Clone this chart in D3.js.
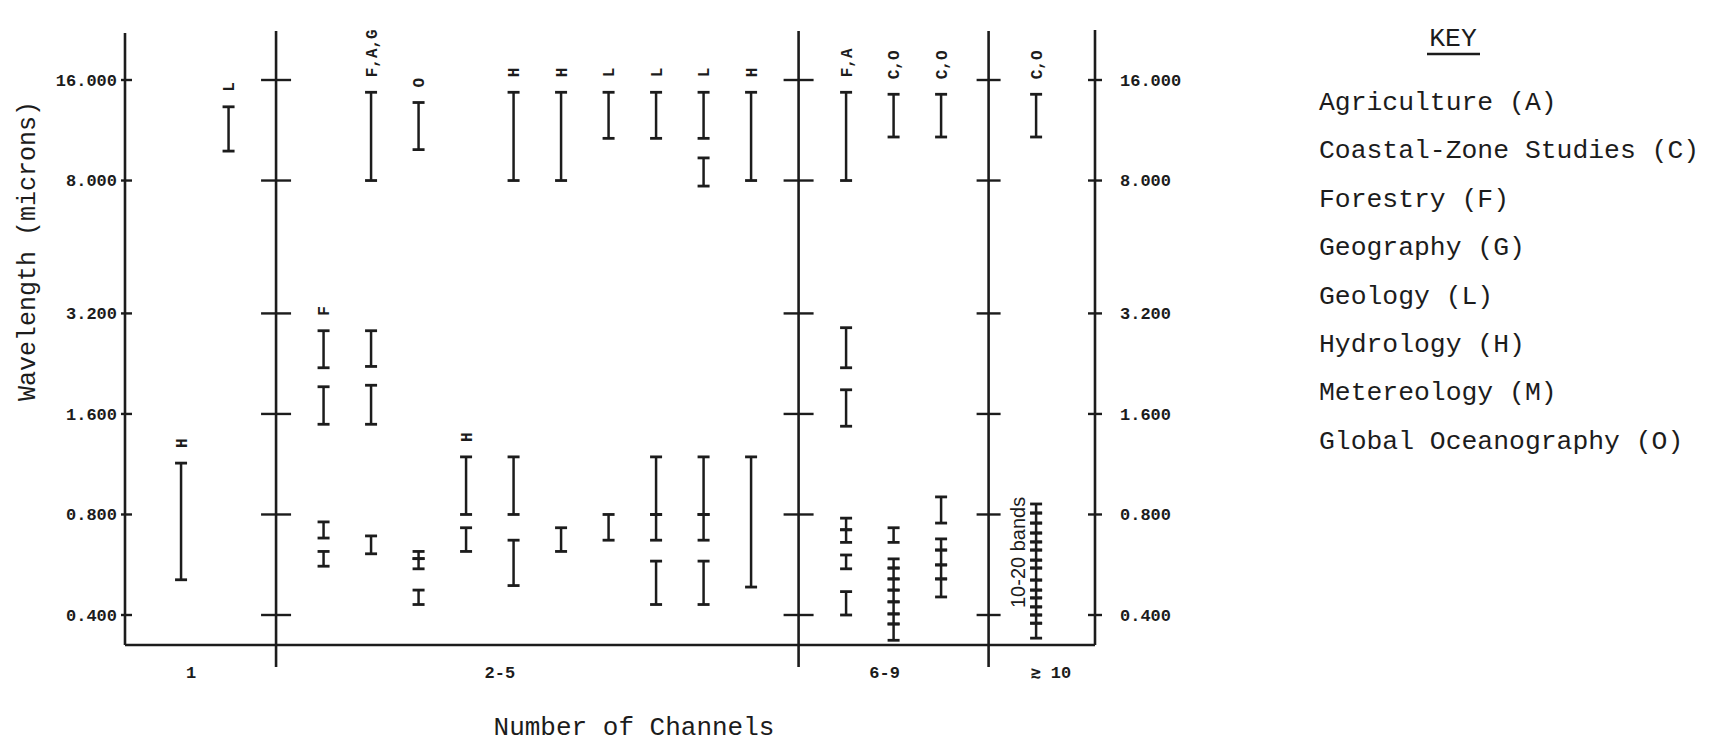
<!DOCTYPE html>
<html>
<head>
<meta charset="utf-8">
<script src="https://cdn.jsdelivr.net/npm/d3@7"></script>
<style>
  body { margin: 0; background: #fff; }
  text { fill: #1c1c1c; }
</style>
</head>
<body>
<svg width="1711" height="745"></svg>
<script>
// groups of channel counts along the bottom (positions are in column slots)
const groupNames = ['1', '2-5', '6-9', '\u2273  10'];
const groupTicks = [0.2, 6.7, 14.8, 18.3];
const dividerSlots = [2, 13, 17];

// wavelength ticks, microns
const wavelengthTicks = [0.4, 0.8, 1.6, 3.2, 8, 16];

// one column per proposed sensor, bands as [low, high] microns
const columnSlots = [0, 1, 3, 4, 5, 6, 7, 8, 9, 10, 11, 12, 14, 15, 16, 18];
const columnLabels = ['H', 'L', 'F', 'F,A,G', 'O', 'H', 'H', 'H', 'L', 'L', 'L', 'H', 'F,A', 'C,O', 'C,O', 'C,O'];
const columnBands = [
  [[0.51, 1.14]],
  [[9.8, 13.3]],
  [[2.2, 2.84], [1.49, 1.93], [0.68, 0.76], [0.56, 0.62]],
  [[8.0, 14.7], [2.22, 2.84], [1.49, 1.95], [0.61, 0.69]],
  [[9.9, 13.7], [0.59, 0.62], [0.55, 0.59], [0.43, 0.475]],
  [[0.8, 1.19], [0.62, 0.73]],
  [[8.0, 14.7], [0.8, 1.19], [0.49, 0.67]],
  [[8.0, 14.7], [0.62, 0.73]],
  [[10.7, 14.7], [0.67, 0.8]],
  [[10.7, 14.7], [0.8, 1.19], [0.67, 0.8], [0.43, 0.58]],
  [[10.7, 14.7], [7.7, 9.35], [0.8, 1.19], [0.67, 0.8], [0.43, 0.58]],
  [[8.0, 14.7], [0.485, 1.19]],
  [[8.0, 14.7], [2.2, 2.9], [1.47, 1.89], [0.72, 0.78], [0.66, 0.72], [0.55, 0.605], [0.4, 0.47]],
  [[10.8, 14.5], [0.66, 0.73], [0.553, 0.589], [0.513, 0.553], [0.475, 0.513], [0.438, 0.475],
    [0.403, 0.438], [0.376, 0.403], [0.336, 0.376]],
  [[10.8, 14.5], [0.754, 0.903], [0.626, 0.676], [0.565, 0.626], [0.513, 0.565], [0.453, 0.513]],
  [[10.8, 14.5], [0.808, 0.86], [0.754, 0.808], [0.704, 0.754], [0.662, 0.704], [0.626, 0.662],
    [0.584, 0.626], [0.553, 0.584], [0.509, 0.553], [0.475, 0.509], [0.45, 0.475], [0.423, 0.45],
    [0.4, 0.423], [0.378, 0.4], [0.341, 0.378]]
];
const bandNote = '10-20 bands';

const keyTitle = 'KEY';
const keyItems = [
  'Agriculture (A)',
  'Coastal-Zone Studies (C)',
  'Forestry (F)',
  'Geography (G)',
  'Geology (L)',
  'Hydrology (H)',
  'Metereology (M)',
  'Global Oceanography (O)'
];

const svg = d3.select('svg');
const ink = '#1c1c1c';
const typewriter = "'Liberation Mono', 'DejaVu Sans Mono', monospace";

const x = d3.scaleLinear().domain([-1.18, 19.24]).range([125, 1095]);
const y = d3.scaleLog().base(2).domain([0.4, 16]).range([615, 80]);
const frameTop = 30;
const frameBottom = 645;
const [xLeft, xRight] = x.range();

// frame: left axis, right axis, baseline
const frame = svg.append('g').attr('stroke', ink).attr('stroke-width', 2.6);
frame.append('line').attr('x1', xLeft).attr('x2', xLeft).attr('y1', frameTop + 3).attr('y2', frameBottom);
frame.append('line').attr('x1', xRight).attr('x2', xRight).attr('y1', frameTop).attr('y2', frameBottom);
frame.append('line').attr('x1', xLeft).attr('x2', xRight).attr('y1', frameBottom).attr('y2', frameBottom);

// dividers between channel groups
dividerSlots.forEach((s) => {
  frame.append('line')
    .attr('x1', x(s)).attr('x2', x(s))
    .attr('y1', frameTop + 1).attr('y2', frameBottom + 22);
});

// tick marks
const tickMarks = svg.append('g').attr('stroke', ink).attr('stroke-width', 2.4);
tickMarks.selectAll('.lt').data(wavelengthTicks).enter().append('line')
  .attr('class', 'lt')
  .attr('x1', xLeft - 4).attr('x2', xLeft + 7)
  .attr('y1', d => y(d)).attr('y2', d => y(d));
tickMarks.selectAll('.rt').data(wavelengthTicks).enter().append('line')
  .attr('class', 'rt')
  .attr('x1', xRight - 7).attr('x2', xRight + 7)
  .attr('y1', d => y(d)).attr('y2', d => y(d));
dividerSlots.forEach((s, i) => {
  const half = i === 2 ? 12 : 15;
  tickMarks.selectAll('.dt' + i).data(wavelengthTicks).enter().append('line')
    .attr('class', 'dt' + i)
    .attr('x1', x(s) - half).attr('x2', x(s) + half)
    .attr('y1', d => y(d)).attr('y2', d => y(d));
});

// axis labels
const styleAxis = (g) => {
  g.select('.domain').remove();
  g.attr('font-family', typewriter).attr('font-size', 17).attr('font-weight', 'bold');
};
svg.append('g')
  .attr('transform', `translate(${xLeft},0)`)
  .call(d3.axisLeft(y).tickValues(wavelengthTicks).tickFormat(d3.format('.3f')).tickSize(0).tickPadding(8))
  .call(styleAxis);
svg.append('g')
  .attr('transform', `translate(${xRight},0)`)
  .call(d3.axisRight(y).tickValues(wavelengthTicks).tickFormat(d3.format('.3f')).tickSize(0).tickPadding(25))
  .call(styleAxis);
svg.append('g')
  .attr('transform', `translate(0,${frameBottom})`)
  .call(d3.axisBottom(x).tickValues(groupTicks).tickFormat((d, i) => groupNames[i]).tickSize(0).tickPadding(21))
  .call(styleAxis);

// bands
const capHalf = 6;
const bars = svg.append('g').attr('stroke', ink);
columnSlots.forEach((slot, i) => {
  const cx = x(slot);
  const col = bars.append('g');
  col.selectAll('.stem').data(columnBands[i]).enter().append('line')
    .attr('class', 'stem')
    .attr('stroke-width', 2.5)
    .attr('x1', cx).attr('x2', cx)
    .attr('y1', d => y(d[1])).attr('y2', d => y(d[0]));
  col.selectAll('.cap').data(columnBands[i].flat()).enter().append('line')
    .attr('class', 'cap')
    .attr('stroke-width', 2.8)
    .attr('x1', cx - capHalf).attr('x2', cx + capHalf)
    .attr('y1', d => y(d)).attr('y2', d => y(d));

  // discipline letters, rotated, just above the highest band
  const top = d3.max(columnBands[i], d => d[1]);
  svg.append('text')
    .attr('transform', `translate(${cx},${y(top) - 15}) rotate(-90)`)
    .attr('dy', '0.35em')
    .attr('font-family', typewriter)
    .attr('font-size', 16)
    .attr('font-weight', 'bold')
    .text(columnLabels[i]);
});

// note beside the multi-band column
const lastSlot = columnSlots[columnSlots.length - 1];
svg.append('text')
  .attr('transform', `translate(${x(lastSlot) - 18},${y(0.4) - 7}) rotate(-90)`)
  .attr('dy', '0.35em')
  .attr('font-family', "'Liberation Sans', Arial, sans-serif")
  .attr('font-size', 20)
  .text(bandNote);

// axis titles
svg.append('text')
  .attr('transform', 'translate(26,251) rotate(-90)')
  .attr('dy', '0.35em')
  .attr('text-anchor', 'middle')
  .attr('font-family', typewriter)
  .attr('font-size', 25)
  .text('Wavelength (microns)');
svg.append('text')
  .attr('x', 634)
  .attr('y', 735)
  .attr('text-anchor', 'middle')
  .attr('font-family', typewriter)
  .attr('font-size', 26)
  .text('Number of Channels');

// key
const key = svg.append('g').attr('font-family', typewriter).attr('font-size', 26.4);
key.append('text')
  .attr('x', 1453).attr('y', 46)
  .attr('text-anchor', 'middle')
  .text(keyTitle);
key.append('line')
  .attr('x1', 1427).attr('x2', 1480)
  .attr('y1', 54).attr('y2', 54)
  .attr('stroke', ink).attr('stroke-width', 2.5);
key.selectAll('.item').data(keyItems).enter().append('text')
  .attr('class', 'item')
  .attr('x', 1319)
  .attr('y', (d, i) => 110 + i * 48.4)
  .text(d => d);
</script>
</body>
</html>
